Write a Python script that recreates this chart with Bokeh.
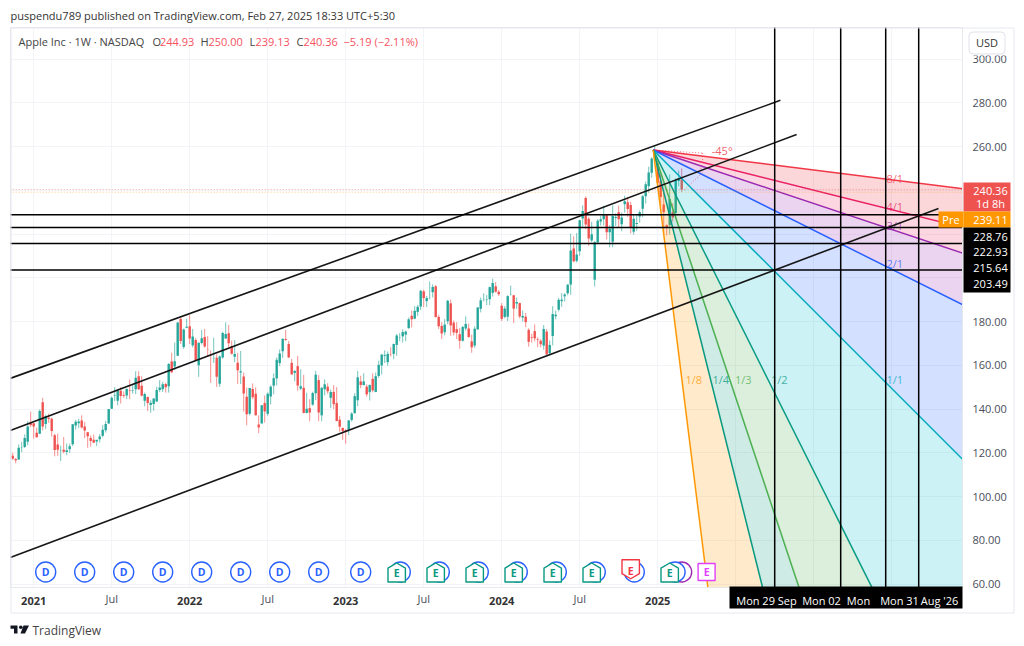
from bokeh.plotting import figure
from bokeh.embed import file_html
from bokeh.resources import INLINE
from bokeh.core.properties import value
from bokeh.models import FixedTicker, Range1d

# week number 0 = Mon 4 Jan 2021; candles begin at week -7 (16 Nov 2020)
FIRST_WEEK = -7
opens = [118.6,117.2,116.9,122.3,122.6,125.0,133.5,
 133.5,129.2,128.7,143.1,133.2,136.0,135.5,128.0,123.8,120.9,121.4,120.3,121.6,
 123.9,132.5,133.5,134.8,132.0,129.4,126.8,126.0,125.1,126.2,127.8,130.3,133.4,
 140.1,146.2,143.8,148.3,146.4,146.2,148.5,148.3,149.0,155.0,150.6,143.8,145.5,
 141.8,142.3,143.4,148.7,149.0,151.4,150.4,161.7,159.4,164.3,181.1,168.3,177.1,
 177.8,169.1,171.5,160.0,170.2,172.9,167.4,165.0,163.1,163.4,151.5,163.5,172.2,
 174.6,168.7,163.9,161.1,156.7,154.9,145.6,137.8,149.1,147.0,132.9,133.4,142.7,
 137.8,145.7,150.7,154.0,161.0,166.4,172.0,169.7,161.1,156.5,159.6,149.3,149.7,
 138.2,140.4,142.0,147.2,153.2,137.1,149.0,150.2,145.1,147.8,142.7,135.1,131.4,
 130.3,130.5,135.0,138.1,144.0,152.6,150.9,150.2,147.7,153.8,147.8,155.1,159.9,
 164.3,161.4,165.1,165.2,169.3,172.5,173.2,174.0,177.0,182.6,181.3,184.4,186.8,
 193.8,189.3,191.9,193.4,196.1,182.1,178.0,175.1,180.1,188.3,179.5,176.5,174.2,
 171.2,176.8,176.8,170.9,169.0,176.4,185.8,189.9,189.8,190.2,193.1,196.1,193.6,
 187.2,182.1,182.2,192.3,192.0,188.2,188.4,181.8,182.2,176.2,172.9,175.6,171.8,
 171.2,169.0,175.4,165.5,173.4,182.4,185.4,189.3,191.5,192.9,196.9,213.4,207.7,
 212.1,227.1,236.5,227.0,217.0,199.1,216.1,225.7,226.8,228.6,220.8,216.5,227.3,
 230.0,224.5,233.6,234.5,233.3,221.0,224.6,228.0,231.5,237.3,241.8,248.0,254.8,252.2,
 244.3,233.5,224.0,224.0,230.0,229.6,244.2,244.93]
highs = [120.0,117.6,123.8,125.0,128.4,134.4,138.8,
 133.6,131.5,139.8,145.1,137.4,137.9,136.0,128.7,128.7,123.2,127.2,124.2,124.2,
 133.0,135.0,135.5,137.1,134.1,129.5,127.9,128.3,125.3,128.5,132.6,134.6,140.0,
 145.7,150.0,148.7,150.0,148.0,149.4,153.5,150.9,157.3,157.3,155.0,147.5,145.7,
 144.2,144.9,150.2,153.2,152.4,152.0,161.0,165.7,170.3,179.6,182.1,176.8,181.3,
 182.9,176.6,172.5,170.4,176.2,176.6,173.3,166.7,172.6,165.0,164.5,175.3,179.6,
 178.5,171.3,171.5,165.7,166.5,156.7,149.8,149.7,151.7,149.9,137.1,141.9,146.2,
 147.6,150.9,156.3,163.6,167.2,172.2,176.2,171.1,162.9,157.8,164.3,158.1,155.6,
 147.5,144.5,147.9,157.5,155.5,150.0,153.6,151.8,148.9,150.9,150.0,136.8,131.4,
 130.9,134.9,138.6,147.2,157.4,155.2,156.3,151.3,151.1,156.3,156.7,162.1,165.0,
 166.8,166.3,168.2,169.9,174.3,174.6,176.4,175.8,181.8,185.0,187.0,187.6,194.5,
 194.5,191.7,198.2,197.0,196.7,183.1,179.7,181.1,189.9,190.0,180.5,179.7,177.0,
 178.0,182.3,179.1,174.0,177.8,186.6,191.0,192.9,192.1,196.0,199.6,198.0,194.4,
 188.4,187.0,192.0,196.4,192.2,191.0,188.7,185.0,183.9,176.9,174.4,178.7,172.8,
 171.9,178.4,176.6,171.3,187.0,185.0,190.8,193.0,193.0,196.9,220.2,219.0,220.4,
 226.5,233.1,237.2,227.8,225.6,216.8,226.8,228.3,232.9,229.0,224.0,233.1,229.5,
 233.0,229.8,237.5,236.9,234.7,229.0,228.9,230.7,237.8,244.0,250.8,255.0,260.1,253.5,
 247.3,239.0,224.4,247.2,234.0,245.5,249.0,250.0]
lows = [116.8,115.2,116.8,120.2,122.2,123.4,131.7,
 126.4,126.9,128.6,130.2,130.9,133.7,127.4,118.4,118.6,116.2,119.7,118.9,119.9,
 123.1,130.6,131.3,131.1,126.7,122.3,122.8,124.6,123.1,124.7,127.1,129.2,133.3,
 140.0,143.6,141.7,142.5,145.2,144.6,144.5,147.1,146.8,148.7,145.8,141.3,139.1,
 138.3,139.2,143.2,147.7,147.8,147.5,147.5,156.4,157.8,164.3,169.7,167.5,177.0,
 169.7,168.2,162.3,154.7,169.5,168.0,163.9,152.0,161.0,150.1,150.1,163.0,172.2,
 168.3,164.9,161.5,151.5,151.4,138.8,132.6,137.1,144.5,137.1,129.0,133.3,133.8,
 136.9,142.1,146.7,150.8,159.6,163.3,171.3,163.3,155.8,152.7,148.4,148.6,138.0,
 138.0,134.4,141.5,144.1,134.4,134.4,146.2,146.9,140.4,140.0,134.4,129.6,125.9,
 124.2,128.1,134.2,137.9,141.3,149.5,150.9,145.7,143.9,147.6,147.7,154.2,155.8,
 161.0,159.8,164.0,162.8,164.3,171.0,170.4,171.0,176.6,177.3,181.0,182.6,185.2,
 186.6,186.6,190.1,191.0,181.9,176.6,172.0,173.7,178.7,173.5,173.6,172.0,167.6,
 170.8,175.8,172.6,165.7,167.9,176.2,184.2,189.2,187.5,187.5,191.4,193.2,191.7,
 180.2,181.5,180.2,191.9,179.3,185.8,181.4,180.0,177.4,168.5,170.3,170.9,168.2,
 168.2,167.1,164.1,164.8,169.1,181.0,184.6,186.7,189.1,192.0,192.2,207.1,207.0,
 210.0,223.3,222.3,214.6,216.2,196.0,215.6,223.9,223.9,217.5,213.9,213.9,223.7,
 223.0,221.3,229.8,227.8,220.3,219.7,221.5,225.2,227.7,233.9,238.9,245.7,253.1,241.8,
 233.0,219.4,219.4,219.7,225.7,227.2,241.8,239.13]
closes = [117.3,116.6,122.3,122.4,126.7,132.0,132.7,
 132.0,127.1,139.1,132.0,136.8,135.4,129.9,121.3,121.4,121.0,120.5,121.2,123.0,
 133.0,134.2,134.3,131.5,130.2,127.5,125.4,124.6,125.9,127.4,130.5,133.1,140.0,
 145.1,146.4,148.6,145.9,146.1,149.1,148.2,148.6,154.3,149.0,146.1,146.9,142.7,
 142.9,144.8,148.7,149.8,151.3,150.0,160.6,156.8,161.8,179.5,171.1,176.3,177.6,
 172.2,173.1,162.4,170.3,172.4,168.6,167.3,164.9,163.2,154.7,164.0,174.7,174.3,
 170.1,165.3,165.1,157.7,157.3,147.1,137.6,149.6,145.4,137.1,131.6,141.7,138.9,
 147.0,150.2,154.1,162.5,165.4,172.1,171.5,163.6,155.8,157.4,150.7,150.4,138.2,
 140.1,138.4,147.3,155.7,138.4,149.7,151.3,148.1,147.8,142.2,134.5,131.9,129.9,
 129.6,134.8,137.9,145.9,154.5,151.0,152.6,146.7,151.0,148.5,155.0,160.2,164.9,
 164.7,165.2,165.0,169.7,173.6,172.6,175.2,175.4,181.0,181.0,184.9,186.7,194.0,
 190.7,190.7,191.9,195.8,182.0,177.8,174.5,178.6,189.5,178.2,175.0,174.8,171.2,
 177.5,178.9,172.9,168.2,176.7,186.4,189.7,190.0,190.0,195.7,197.6,193.6,192.5,
 181.2,185.9,191.6,192.4,185.9,188.9,182.3,182.5,179.7,170.7,172.6,172.3,171.5,
 169.6,176.6,165.0,169.3,183.4,183.1,189.9,190.0,192.3,196.9,212.5,207.5,210.6,
 226.3,230.5,224.3,218.0,219.9,216.2,226.1,226.8,229.0,220.8,222.5,228.2,227.8,
 226.8,227.6,235.0,231.4,222.9,227.0,225.0,229.9,237.3,242.8,248.1,254.5,255.6,243.4,
 236.9,230.0,222.8,236.0,227.6,244.6,245.6,240.36]

y_ticks = [60,80,100,120,140,160,180,200,220,240,260,280,300]
x_normal_ticks = [26,78,130,182,234,286]        # "Jul"
x_year_ticks = [0,52,104,156,208,260]
x_year_labels = ["2021","2022","2023","2024","2025",""]
x_jul_labels = ["Jul","Jul","Jul","Jul","",""]

last_price = 240.36
pre_price = 239.11
level_prices = [228.76,222.93,215.64,203.49]
level_labels = ["228.76","222.93","215.64","203.49"]
vertical_weeks = [247,269,284,295]
channel_weeks = [[-7.8,248.9],[-7.8,254.3],[-7.8,301.6]]
channel_prices = [[154.0,281.1],[130.2,265.5],[72.1,231.7]]

fan_week = 206.5
fan_price = 258.4
fan_names = ["8/1","4/1","3/1","2/1","1/1","1/2","1/3","1/4","1/8"]
fan_slopes = [0.125,0.25,1/3,0.5,1,2,3,4,8]
fan_colors = ["#f23645","#e91e63","#9c27b0","#2962ff","#00acc1","#089981","#4caf50","#089981","#ff9800"]
band_colors = ["#f23645","#f23668","#9c27b0","#2962ff","#00bcd4","#4caf50","#089981","#ff9800"]
fan_label_weeks = [287,287,287,287,287,248.5,236.5,229,220]
fan_label_prices = [245.5,232.5,224,206.5,153.5,153.5,153.5,153.5,153.5]

dividend_weeks = [4,17,30,43,56,69,82,95,109,122.2,135.2,148.2,161.2,174.2,187.2,200.2,213.8]
earn_up_weeks = [121,134,147,160,173,186,212]
earn_down_weeks = [199]
other_circle_weeks = [216]
split_weeks = [224.3]
event_price = 65.5

W, H = 1016, 638
X0, X1, Y0, Y1 = 10, 962, 27, 587      # plot frame in page pixels
PX_W = 3.0
PX_P = 2.1875
ORIGIN_PX = 33.2
Y60_PX = 583.5

p = figure(width=W, height=H, output_backend="svg", toolbar_location=None,
           x_range=Range1d((X0-ORIGIN_PX)/PX_W, (X1-ORIGIN_PX)/PX_W),
           y_range=Range1d(60-(Y1-Y60_PX)/PX_P, 60+(Y60_PX-Y0)/PX_P),
           y_axis_location="right",
           min_border_left=X0, min_border_right=W-X1,
           min_border_top=Y0, min_border_bottom=H-Y1)
p.background_fill_color = "white"
p.border_fill_color = "white"
p.outline_line_color = "#e6e8ee"

FONT = "Open Sans"
ax = p.yaxis[0]
ax.ticker = FixedTicker(ticks=y_ticks)
ax.major_label_overrides = {t: f"{t:.2f}" for t in y_ticks}
ax.major_label_text_font = FONT
ax.major_label_text_font_size = "11px"
ax.major_label_text_color = "#4a4e5a"
ax.major_tick_line_color = None
ax.minor_tick_line_color = None
ax.axis_line_color = "#e6e8ee"
ax.major_label_standoff = 4

bx = p.xaxis[0]
bx.ticker = FixedTicker(ticks=x_normal_ticks + x_year_ticks)
bx.major_label_overrides = {**{t: l for t, l in zip(x_normal_ticks, x_jul_labels)},
                            **{t: "" for t in x_year_ticks}}
bx.major_label_text_font = FONT
bx.major_label_text_font_size = "11px"
bx.major_label_text_color = "#4a4e5a"
bx.major_tick_line_color = None
bx.minor_tick_line_color = None
bx.axis_line_color = "#e6e8ee"
bx.major_label_standoff = -3

p.xgrid[0].ticker = FixedTicker(ticks=x_normal_ticks + x_year_ticks)
p.ygrid[0].ticker = FixedTicker(ticks=y_ticks)
p.xgrid[0].grid_line_color = "#f3f4f7"
p.ygrid[0].grid_line_color = "#f3f4f7"

# candles
weeks = [FIRST_WEEK + i for i in range(len(closes))]
UP, DOWN = "#26a69a", "#ef5350"
colors = [UP if c >= o else DOWN for o, c in zip(opens, closes)]
p.segment(weeks, lows, weeks, highs, line_color=colors, line_width=1, line_alpha=0.65)
p.vbar(x=weeks, width=0.8, bottom=[min(a, b) for a, b in zip(opens, closes)],
       top=[max(a, b) for a, b in zip(opens, closes)], fill_color=colors, line_color=None)

# Gann fan
far = 340
def fan_end(s):
    return fan_price - s * (PX_W / PX_P) * (far - fan_week)
for s1, s2, c in zip(fan_slopes[:-1], fan_slopes[1:], band_colors):
    p.patch([fan_week, far, far], [fan_price, fan_end(s1), fan_end(s2)],
            fill_color=c, fill_alpha=0.2, line_color=None)
for s, c in zip(fan_slopes, fan_colors):
    p.line([fan_week, far], [fan_price, fan_end(s)], line_color=c, line_width=1.5)
p.text(fan_label_weeks, fan_label_prices, text=fan_names,
       text_color=fan_colors, text_alpha=0.75, text_font=value(FONT), text_font_size="11px",
       text_align="center", text_baseline="middle")

# -45 degree marker
p.line([fan_week, 222.9], [fan_price, 257.0], line_color="#f23645", line_dash="1 2", line_width=1, line_alpha=0.7)
p.line([222.9, 223.0, 222.0], [257.0, 252.8, 248.0], line_color="#f23645", line_dash="1 2", line_width=1, line_alpha=0.7)
p.line([222.9, 216.6], [248.0, 239.8], line_color="#f23645", line_dash="1 2", line_width=1, line_alpha=0.7)
p.text([229.5], [258.0], text=["-45°"], text_color="#f23645", text_alpha=0.8,
       text_font=value(FONT), text_font_size="11px", text_align="center", text_baseline="middle")

# last and pre-market price dotted lines
p.line([-8, 320], [last_price, last_price], line_color="#ef5350", line_dash="1 2", line_width=1, line_alpha=0.5)
p.line([-8, 320], [pre_price, pre_price], line_color="#ff9800", line_dash="1 2", line_width=1, line_alpha=0.5)

# black drawings
for wx, py in zip(channel_weeks, channel_prices):
    p.line(wx, py, line_color="#161616", line_width=1.6)
for lv in level_prices:
    p.line([-8, 320], [lv, lv], line_color="#000000", line_width=1.5)
for vw in vertical_weeks:
    p.line([vw, vw], [50, 320], line_color="#000000", line_width=1.5)

# events
BLUE, GREEN, RED = "#2962ff", "#089981", "#f23645"
def letters(xs, py, ch, color):
    p.text(xs, [py]*len(xs), text=[ch]*len(xs), text_color=color, text_font=value(FONT),
           text_font_size="10.5px", text_font_style="bold", text_align="center", text_baseline="middle")
p.scatter(other_circle_weeks, [event_price]*len(other_circle_weeks), marker="circle", size=20,
          fill_color="white", line_color="#9c27b0", line_width=1.4)
p.scatter(dividend_weeks, [event_price]*len(dividend_weeks), marker="circle", size=20,
          fill_color="white", line_color=BLUE, line_width=1.4)
letters(dividend_weeks[:9], event_price, "D", BLUE)
house_dx = [0, 2.9, 2.9, -2.9, -2.9]
house_dy = [4.1, 1.8, -4.6, -4.6, 1.8]
for w in earn_up_weeks:
    p.patch([w+d for d in house_dx], [event_price+d for d in house_dy],
            fill_color="white", line_color=GREEN, line_width=1.4, line_join="round")
for w in earn_down_weeks:
    p.patch([w+d for d in house_dx], [event_price+1-d for d in house_dy],
            fill_color="white", line_color=RED, line_width=1.4, line_join="round")
letters(earn_up_weeks, event_price-0.5, "E", GREEN)
letters(earn_down_weeks, event_price+0.5, "E", RED)
p.scatter(split_weeks, [event_price], marker="square", size=17, fill_color="white",
          line_color="#e040fb", line_width=1.4)
letters(split_weeks, event_price, "E", "#e040fb")

# transparent overlay covering the whole page: header, price tags, date tags, logo
q = figure(width=W, height=H, output_backend="svg", toolbar_location=None,
           x_range=Range1d(0, W), y_range=Range1d(H, 0),
           x_axis_type=None, y_axis_type=None,
           min_border=0, min_border_left=0, min_border_right=0, min_border_top=0, min_border_bottom=0,
           styles={"position": "absolute", "left": "0px", "top": "0px"})
q.grid.visible = False
q.background_fill_color = None
q.border_fill_color = None
q.outline_line_color = None

def box(l, t, r, b, fill=None, line=None, radius=0):
    q.quad(left=[l], right=[r], top=[t], bottom=[b], fill_color=fill, fill_alpha=1 if fill else 0,
           line_color=line, border_radius=radius)
def label(px, py, text, color="#333333", size=12, align="left", style="normal"):
    q.text([px], [py], text=[text], text_color=color, text_font=value(FONT),
           text_font_size=f"{size}px", text_align=align, text_baseline="middle", text_font_style=style)

# outer panels
box(963, 587.5, 1013, 612, "white")
box(963, 28, 1013, 55, "white")
box(10.5, 27.5, 1013.5, 612.5, None, "#e6e8ee")
# USD button
box(968.5, 31.5, 1004.5, 53.5, "white", "#e0e3eb", 4)
label(986.5, 42, "USD", "#333333", 11, "center")

# year labels (bold)
for t, l in zip(x_year_ticks, x_year_labels):
    if l:
        label(ORIGIN_PX + PX_W*t, 600, l, "#333333", 11, "center", "bold")

# date tags
box(729, 586, 962, 608, "#000000")
for cx, t in [(766, "Mon 29 Sep"), (821, "Mon 02"), (858, "Mon"), (899, "Mon 31"), (939, "Aug '26")]:
    label(cx, 600, t, "white", 11, "center")

# price tags
box(963, 182, 1010, 211, "#ef5350")
label(990, 190, "240.36", "white", 11, "center")
label(990, 203, "1d 8h", "white", 11, "center")
box(938, 211, 963, 227, "#ff9800")
label(950.5, 219, "Pre", "white", 11, "center")
box(963, 211, 1010, 227, "#ff9800")
label(990, 219, "239.11", "white", 11, "center")
box(963, 227, 1010, 292, "#000000")
for py, t in zip([236, 251.5, 267.5, 283], level_labels):
    label(990, py, t, "white", 11, "center")

# header
label(10, 15, "puspendu789 published on TradingView.com, Feb 27, 2025 18:33 UTC+5:30", "#333333", 11)
label(18, 41, "Apple Inc · 1W · NASDAQ", "#444444", 11)
VAL = "#f7525f"
for px, t, c in [(152, "O", "#444444"), (159.5, "244.93", VAL), (200, "H", "#444444"), (208, "250.00", VAL),
                 (249, "L", "#444444"), (255, "239.13", VAL), (296, "C", "#444444"), (303, "240.36", VAL),
                 (343, "−5.19 (−2.11%)", VAL)]:
    label(px, 41, t, c, 11)

# TradingView logo
LOGO = "#131722"
q.patch([10, 17, 17, 13.5, 13.5, 10], [625, 625, 633, 633, 628.3, 628.3], fill_color=LOGO, line_color=None)
q.circle([20.3], [626.8], radius=1.8, fill_color=LOGO, line_color=None)
q.patch([23, 28.5, 24.5, 20], [625, 625, 633, 633], fill_color=LOGO, line_color=None)
label(32, 630, "TradingView", "#444444", 12)

open("out.html", "w").write(file_html([p, q], INLINE))
